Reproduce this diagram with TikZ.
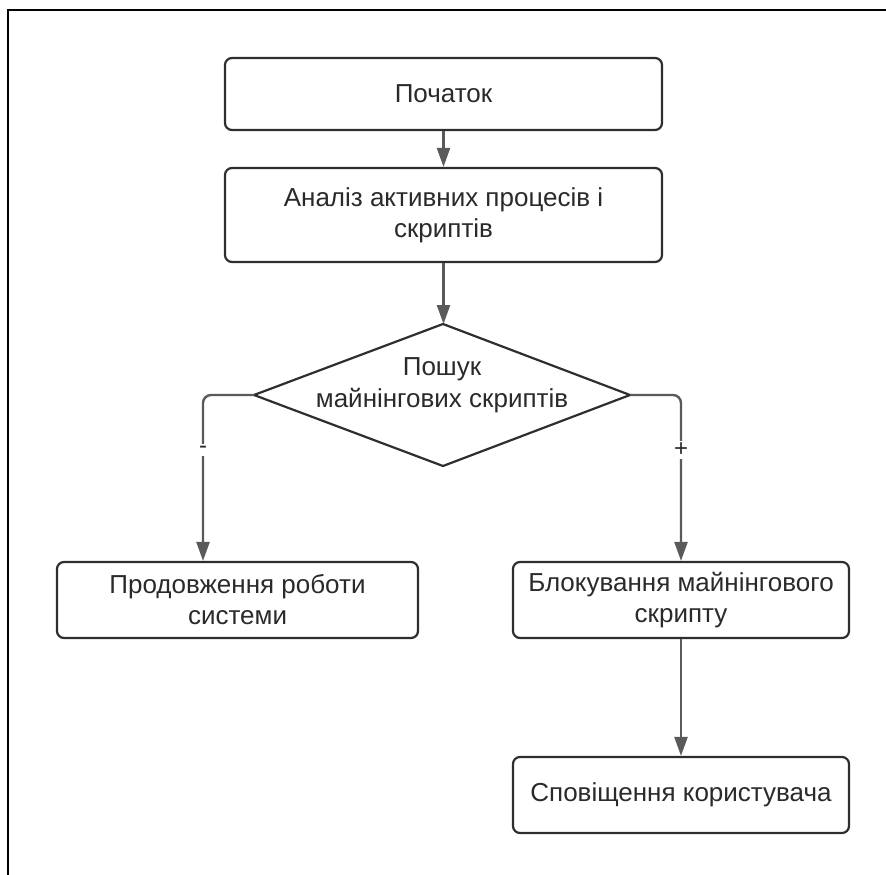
\documentclass[tikz,border=0pt]{standalone}
\usepackage{fontspec}
\setmainfont{Liberation Sans}
\usetikzlibrary{arrows.meta}
\definecolor{boxline}{HTML}{2E2E2E}
\definecolor{arrline}{HTML}{5A5A5A}
\definecolor{txt}{HTML}{2A2A2A}
\begin{document}
\begin{tikzpicture}[x=1pt,y=-1pt,
  box/.style={draw=boxline,line width=2.2pt,rounded corners=7pt,rectangle,
    inner sep=0pt,align=center,text=txt,font=\fontsize{26}{31}\selectfont},
  arr/.style={draw=arrline,line width=2.4pt,-{Triangle[width=13pt,length=19pt]}},
  lbl/.style={fill=white,inner sep=2pt,text=txt,font=\fontsize{24}{26}\selectfont},
  frame/.style={draw=black,line width=2pt}]
\useasboundingbox (0,0) rectangle (886,875);
% frame (top and left edges)
\coordinate (ftr) at (886,10);
\coordinate (ftl) at (8,10);
\coordinate (fbl) at (8,875);
\draw[frame] (ftr) -- (ftl) -- (fbl);
% boxes
\node[box,minimum width=437pt,minimum height=72pt] (b1) at (443.5,94) {Початок};
\node[box,minimum width=437pt,minimum height=94pt] (b2) at (443.5,215) {Аналіз активних процесів і\\скриптів};
% diamond
\coordinate (dt) at (443,324);
\coordinate (dr) at (630,395);
\coordinate (db) at (443,466);
\coordinate (dl) at (254,395);
\draw[draw=boxline,line width=2.2pt,line join=round] (dt) -- (dr) -- (db) -- (dl) -- cycle;
\node[align=center,text=txt,font=\fontsize{26}{32}\selectfont] (d) at (442,385) {Пошук\\майнінгових скриптів};
\node[box,minimum width=361pt,minimum height=76pt] (b3) at (237.5,600) {Продовження роботи\\системи};
\node[box,minimum width=336pt,minimum height=76pt] (b4) at (681,600) {Блокування майнінгового\\скрипту};
\node[box,minimum width=336pt,minimum height=76pt] (b5) at (681,795) {Сповіщення користувача};
% connectors
\draw[arr] (b1.south) -- (b2.north);
\draw[arr] (b2.south) -- (b2.south |- dt);
\coordinate (lx) at (203,0);
\draw[arr,rounded corners=8pt] (dl) -| (lx |- b3.north);
\draw[arr,rounded corners=8pt] (dr) -| (b4.north);
\draw[arr] (b4.south) -- (b5.north);
% branch labels
\node[lbl] (minus) at (203,450) {-};
\node[lbl] (plus) at (681,450) {+};
\end{tikzpicture}
\end{document}
